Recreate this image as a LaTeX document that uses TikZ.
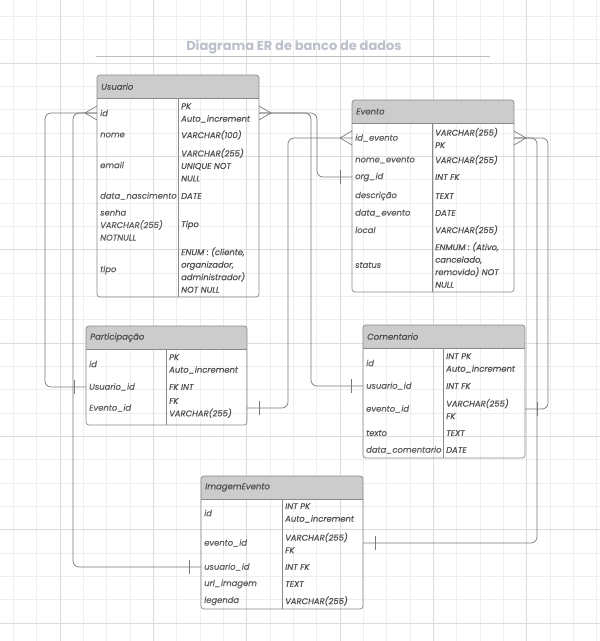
\documentclass[tikz,border=0pt]{standalone}
\usepackage{fontspec}
\setmainfont{Poppins}[ItalicFeatures={FakeBold=0.35}]
\definecolor{gridminor}{HTML}{EEEEEE}
\definecolor{gridmajor}{HTML}{DCDCDC}
\definecolor{hdrgray}{HTML}{CCCCCC}
\definecolor{framegray}{HTML}{8A8A8A}
\definecolor{txtgray}{HTML}{5C5C5C}
\definecolor{typgray}{HTML}{4E4E4E}
\definecolor{linegray}{HTML}{7A7A7A}
\definecolor{titlegray}{HTML}{BCC0CB}
\tikzset{
  tblbox/.style={draw=none,inner sep=0pt,outer sep=0pt},
  tblframe/.style={draw=framegray,line width=.7pt,rounded corners=3pt},
  tblline/.style={draw=framegray,line width=.6pt},
  hdrtext/.style={anchor=west,inner sep=1pt,text=typgray,font=\fontsize{8.5}{11}\selectfont\itshape},
  fld/.style={anchor=west,inner sep=1pt,align=left,text=txtgray,font=\fontsize{8.4}{12.5}\selectfont\itshape},
  typ/.style={fld,text=typgray},
  rel/.style={draw=linegray,line width=.7pt},
  via/.style={rel,rounded corners=6pt}
}
% entity table: name, x, y, width, height, column, title
\newcommand{\ertable}[7]{%
  \node[tblbox,minimum width=#4pt,minimum height=#5pt,anchor=north west] (#1) at (#2,#3) {};
  \begin{scope}
    \clip[rounded corners=3pt] (#1.north west) rectangle (#1.south east);
    \fill[hdrgray] (#1.north west) rectangle ([yshift=-23pt]#1.north east);
  \end{scope}
  \draw[tblline] ([yshift=-23pt]#1.north west) -- ([yshift=-23pt]#1.north east);
  \draw[tblline] ([xshift=#6pt,yshift=-23pt]#1.north west) -- ([xshift=#6pt]#1.south west);
  \draw[tblframe] (#1.north west) rectangle (#1.south east);
  \node[hdrtext] (#1-t) at ([xshift=3pt,yshift=-11.5pt]#1.north west) {#7};
}
% crow's foot (many) and bar (one); #2 = -1 left, 1 right
\newcommand{\crowfoot}[2]{%
  \draw[rel] ([xshift=#2*12pt]#1) -- ([yshift=7pt]#1)
             ([xshift=#2*12pt]#1) -- ([yshift=-7pt]#1);}
\newcommand{\onebar}[2]{%
  \draw[rel] ([xshift=#2*12pt,yshift=7pt]#1) -- ([xshift=#2*12pt,yshift=-7pt]#1);}
\begin{document}
\begin{tikzpicture}[x=1pt,y=-1pt]
  \useasboundingbox (0,0) rectangle (600,641);
  \fill[white] (0,0) rectangle (600,641);
  % grid
  \foreach \i in {0,...,25}
    \draw[gridminor,line width=.5pt] (13.33+23.333*\i,0) -- (13.33+23.333*\i,641);
  \foreach \j in {0,...,27}
    \draw[gridminor,line width=.5pt] (0,16.2+23.333*\j) -- (600,16.2+23.333*\j);
  \foreach \i in {0,...,5}
    \draw[gridmajor,line width=.6pt] (60+93.333*\i,0) -- (60+93.333*\i,641);
  \foreach \j in {0,...,6}
    \draw[gridmajor,line width=.6pt] (0,62.8+93.333*\j) -- (600,62.8+93.333*\j);

  % title
  \node[text=titlegray,font=\fontsize{13}{15}\selectfont\bfseries] (title) at (294,47) {Diagrama ER de banco de dados};
  \draw[titlegray,line width=.9pt] (96,56) -- (490,56);

  % Usuario
  \ertable{usuario}{97}{75}{162}{222}{81}{Usuario}
  \node[fld] (u-id) at (99,113) {id};
  \node[typ] (u-idt) at (180,113) {PK\\Auto\_increment};
  \node[fld] (u-nome) at (99,135) {nome};
  \node[typ] (u-nomet) at (180,135) {VARCHAR(100)};
  \node[fld] (u-email) at (99,165) {email};
  \node[typ] (u-emailt) at (180,165) {VARCHAR(255)\\UNIQUE NOT\\NULL};
  \node[fld] (u-nasc) at (99,196) {data\_nascimento};
  \node[typ] (u-nasct) at (180,196) {DATE};
  \node[fld] (u-senha) at (99,225) {senha\\VARCHAR(255)\\NOTNULL};
  \node[typ] (u-senhat) at (180,225) {Tipo};
  \node[fld] (u-tipo) at (99,270) {tipo};
  \node[typ] (u-tipot) at (180,270) {ENUM : (cliente,\\organizador,\\administrador)\\NOT NULL};

  % Evento
  \ertable{evento}{352}{100}{162}{192}{80}{Evento}
  \node[fld] (e-id) at (354,138) {id\_evento};
  \node[typ] (e-idt) at (434,138) {VARCHAR(255)\\PK};
  \node[fld] (e-nome) at (354,160) {nome\_evento};
  \node[typ] (e-nomet) at (434,160) {VARCHAR(255)};
  \node[fld] (e-org) at (354,177) {org\_id};
  \node[typ] (e-orgt) at (434,177) {INT FK};
  \node[fld] (e-desc) at (354,196) {descrição};
  \node[typ] (e-desct) at (434,196) {TEXT};
  \node[fld] (e-data) at (354,213) {data\_evento};
  \node[typ] (e-datat) at (434,213) {DATE};
  \node[fld] (e-local) at (354,230) {local};
  \node[typ] (e-localt) at (434,230) {VARCHAR(255)};
  \node[fld] (e-status) at (354,265) {status};
  \node[typ] (e-statust) at (434,265) {ENMUM : (Ativo,\\cancelado,\\removido) NOT\\NULL};

  % Participacao
  \ertable{partic}{86}{326}{161}{99}{80}{Participação}
  \node[fld] (p-id) at (88,364) {id};
  \node[typ] (p-idt) at (168,364) {PK\\Auto\_increment};
  \node[fld] (p-uid) at (88,387) {Usuario\_id};
  \node[typ] (p-uidt) at (168,387) {FK INT};
  \node[fld] (p-eid) at (88,408) {Evento\_id};
  \node[typ] (p-eidt) at (168,408) {FK\\VARCHAR(255)};

  % Comentario
  \ertable{coment}{363}{325}{162}{133}{80}{Comentario}
  \node[fld] (c-id) at (365,363) {id};
  \node[typ] (c-idt) at (445,363) {INT PK\\Auto\_increment};
  \node[fld] (c-uid) at (365,386) {usuario\_id};
  \node[typ] (c-uidt) at (445,386) {INT FK};
  \node[fld] (c-eid) at (365,409) {evento\_id};
  \node[typ] (c-eidt) at (445,409) {VARCHAR(255)\\FK};
  \node[fld] (c-txt) at (365,433) {texto};
  \node[typ] (c-txtt) at (445,433) {TEXT};
  \node[fld] (c-data) at (365,450) {data\_comentario};
  \node[typ] (c-datat) at (445,450) {DATE};

  % ImagemEvento
  \ertable{imagem}{201}{476}{162}{133}{81}{ImagemEvento}
  \node[fld] (i-id) at (203,513) {id};
  \node[typ] (i-idt) at (284,513) {INT PK\\Auto\_increment};
  \node[fld] (i-eid) at (203,543) {evento\_id};
  \node[typ] (i-eidt) at (284,543) {VARCHAR(255)\\FK};
  \node[fld] (i-uid) at (203,567) {usuario\_id};
  \node[typ] (i-uidt) at (284,567) {INT FK};
  \node[fld] (i-url) at (203,584) {url\_imagem};
  \node[typ] (i-urlt) at (284,584) {TEXT};
  \node[fld] (i-leg) at (203,601) {legenda};
  \node[typ] (i-legt) at (284,601) {VARCHAR(255)};

  % connector ends on the table edges
  \coordinate (uidL) at (usuario.west |- u-id);
  \coordinate (uidR) at (usuario.east |- u-id);
  \coordinate (eidL) at (evento.west |- e-id);
  \coordinate (eidR) at (evento.east |- e-id);
  \coordinate (eorgL) at (evento.west |- e-org);
  \coordinate (puidL) at (partic.west |- p-uid);
  \coordinate (peidR) at (partic.east |- p-eid);
  \coordinate (cuidL) at (coment.west |- c-uid);
  \coordinate (ceidR) at (coment.east |- c-eid);
  \coordinate (iuidL) at (imagem.west |- i-uid);
  \coordinate (ieidR) at (imagem.east |- i-eid);
  % vertical runs
  \coordinate (v1) at ([xshift=-52pt]uidL);
  \coordinate (v2) at ([xshift=-24pt]uidL);
  \coordinate (v3) at ([xshift=58pt]uidR);
  \coordinate (v4) at ([xshift=52pt]uidR);
  \coordinate (v5) at ([xshift=-64pt]eidL);
  \coordinate (v6) at ([xshift=34pt]eidR);
  \coordinate (v7) at ([xshift=23pt]eidR);

  % relations
  \draw[via] (uidL) -| (v1 |- puidL) -- (puidL);
  \draw[via] (uidL) -| (v2 |- iuidL) -- (iuidL);
  \draw[via] (uidR) -| (v3 |- eorgL) -- (eorgL);
  \draw[via] (uidR) -| (v4 |- cuidL) -- (cuidL);
  \draw[via] (eidL) -| (v5 |- peidR) -- (peidR);
  \draw[via] (eidR) -| (v6 |- ceidR) -- (ceidR);
  \draw[via] (eidR) -| (v7 |- ieidR) -- (ieidR);
  \crowfoot{uidL}{-1}
  \crowfoot{uidR}{1}
  \crowfoot{eidL}{-1}
  \crowfoot{eidR}{1}
  \onebar{puidL}{-1}
  \onebar{iuidL}{-1}
  \onebar{eorgL}{-1}
  \onebar{cuidL}{-1}
  \onebar{peidR}{1}
  \onebar{ceidR}{1}
  \onebar{ieidR}{1}
\end{tikzpicture}
\end{document}
